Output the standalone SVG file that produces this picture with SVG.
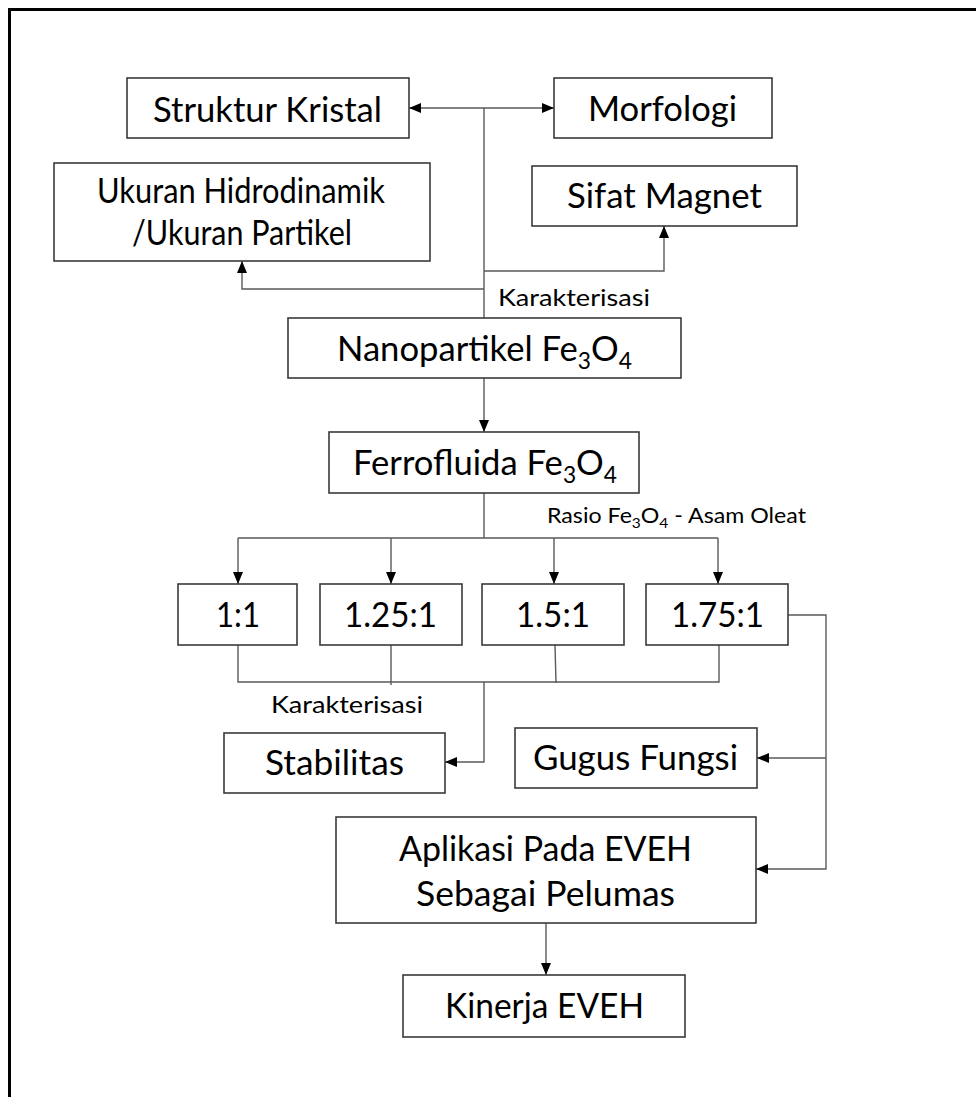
<svg xmlns="http://www.w3.org/2000/svg" width="976" height="1097" viewBox="0 0 976 1097">
<style>
.box{fill:#fff;stroke:#3a3a3a;stroke-width:1.6}
.lbl{font-family:Lato,"Open Sans","Liberation Sans",sans-serif;font-size:35px;fill:#000}
.sm{font-family:Lato,"Open Sans","Liberation Sans",sans-serif;font-size:24px;fill:#000}
.xs{font-family:Lato,"Open Sans","Liberation Sans",sans-serif;font-size:21px;fill:#000}
.con{fill:none;stroke:#5a5a5a;stroke-width:1.4}
.arr{marker-end:url(#ah)}
</style>
<defs>
<marker id="ah" markerUnits="userSpaceOnUse" markerWidth="12" markerHeight="10" refX="12" refY="5" orient="auto">
<path d="M0,0 L12,5 L0,10 z" fill="#000"/>
</marker>
<marker id="ahs" markerUnits="userSpaceOnUse" markerWidth="12" markerHeight="10" refX="12" refY="5" orient="auto-start-reverse">
<path d="M0,0 L12,5 L0,10 z" fill="#000"/>
</marker>
</defs>
<rect width="976" height="1097" fill="#fff"/>
<path d="M9.5,1097 V9.5 H976" fill="none" stroke="#000" stroke-width="3"/>

<g id="connectors">
<path class="con" d="M409,108 H554" marker-start="url(#ahs)" marker-end="url(#ahs)"/>
<path class="con" d="M484,108 V318"/>
<path class="con arr" d="M484,271 H664 V226"/>
<path class="con arr" d="M484,289 H242 V261"/>
<path class="con arr" d="M484,378 V432"/>
<path class="con" d="M484,493 V538 M238,538 H718"/>
<path class="con arr" d="M238,538 V584"/>
<path class="con arr" d="M391,538 V584"/>
<path class="con arr" d="M554,538 V584"/>
<path class="con arr" d="M718,538 V584"/>
<path class="con" d="M238,645 V682 H719 V645 M391,645 V685 M555,645 L556,683"/>
<path class="con arr" d="M484,682 V762 H445"/>
<path class="con arr" d="M788,615 H826 V869 H756"/>
<path class="con arr" d="M826,758 H757"/>
<path class="con arr" d="M546,923 V975"/>
</g>

<g id="struktur-kristal"><rect class="box" x="127" y="78" width="282" height="60"/><text class="lbl" x="153" y="122" textLength="229" lengthAdjust="spacingAndGlyphs">Struktur Kristal</text></g>
<g id="morfologi"><rect class="box" x="554" y="78" width="218" height="60"/><text class="lbl" x="588" y="121" textLength="149" lengthAdjust="spacingAndGlyphs">Morfologi</text></g>
<g id="ukuran"><rect class="box" x="54" y="163" width="376" height="98"/><text class="lbl" x="97" y="203" textLength="288" lengthAdjust="spacingAndGlyphs">Ukuran Hidrodinamik</text><text class="lbl" x="132" y="245" textLength="220" lengthAdjust="spacingAndGlyphs">/Ukuran Partikel</text></g>
<g id="sifat-magnet"><rect class="box" x="532" y="166" width="265" height="60"/><text class="lbl" x="567" y="208" textLength="195" lengthAdjust="spacingAndGlyphs">Sifat Magnet</text></g>
<g id="label-karakterisasi-1"><text class="sm" x="498" y="306" textLength="152" lengthAdjust="spacingAndGlyphs">Karakterisasi</text></g>
<g id="nanopartikel"><rect class="box" x="288" y="318" width="393" height="60"/><text class="lbl" x="337" y="361" textLength="295" lengthAdjust="spacingAndGlyphs">Nanopartikel Fe<tspan dy="8" font-size="23">3</tspan><tspan dy="-8">O</tspan><tspan dy="8" font-size="23">4</tspan></text></g>
<g id="ferrofluida"><rect class="box" x="329" y="432" width="310" height="61"/><text class="lbl" x="353" y="475" textLength="264" lengthAdjust="spacingAndGlyphs">Ferrofluida Fe<tspan dy="8" font-size="23">3</tspan><tspan dy="-8">O</tspan><tspan dy="8" font-size="23">4</tspan></text></g>
<g id="label-rasio"><text class="xs" x="547" y="523" textLength="259" lengthAdjust="spacingAndGlyphs">Rasio Fe<tspan dy="5" font-size="14">3</tspan><tspan dy="-5">O</tspan><tspan dy="5" font-size="14">4</tspan><tspan dy="-5"> - Asam Oleat</tspan></text></g>
<g id="r1"><rect class="box" x="178" y="584" width="119" height="61"/><text class="lbl" x="216" y="627" textLength="44" lengthAdjust="spacingAndGlyphs">1:1</text></g>
<g id="r2"><rect class="box" x="320" y="584" width="142" height="61"/><text class="lbl" x="344" y="627" textLength="93" lengthAdjust="spacingAndGlyphs">1.25:1</text></g>
<g id="r3"><rect class="box" x="482" y="584" width="142" height="61"/><text class="lbl" x="516" y="627" textLength="74" lengthAdjust="spacingAndGlyphs">1.5:1</text></g>
<g id="r4"><rect class="box" x="646" y="584" width="142" height="61"/><text class="lbl" x="671" y="627" textLength="93" lengthAdjust="spacingAndGlyphs">1.75:1</text></g>
<g id="label-karakterisasi-2"><text class="sm" x="271" y="713" textLength="152" lengthAdjust="spacingAndGlyphs">Karakterisasi</text></g>
<g id="stabilitas"><rect class="box" x="224" y="733" width="221" height="60"/><text class="lbl" x="265" y="775" textLength="139" lengthAdjust="spacingAndGlyphs">Stabilitas</text></g>
<g id="gugus-fungsi"><rect class="box" x="515" y="728" width="242" height="60"/><text class="lbl" x="533" y="770" textLength="205" lengthAdjust="spacingAndGlyphs">Gugus Fungsi</text></g>
<g id="aplikasi"><rect class="box" x="336" y="817" width="420" height="106"/><text class="lbl" x="399" y="861" textLength="293" lengthAdjust="spacingAndGlyphs">Aplikasi Pada EVEH</text><text class="lbl" x="416" y="906" textLength="259" lengthAdjust="spacingAndGlyphs">Sebagai Pelumas</text></g>
<g id="kinerja"><rect class="box" x="403" y="975" width="282" height="62"/><text class="lbl" x="445" y="1018" textLength="199" lengthAdjust="spacingAndGlyphs">Kinerja EVEH</text></g>
</svg>
